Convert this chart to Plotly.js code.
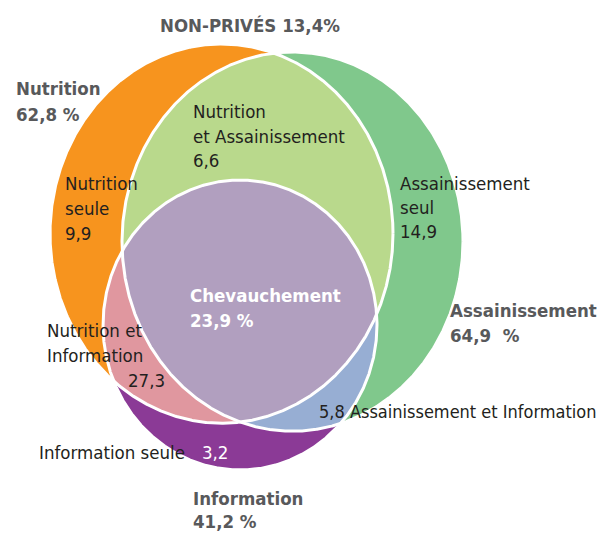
<!DOCTYPE html>
<html>
<head>
<meta charset="utf-8">
<script src="https://cdn.plot.ly/plotly-3.0.1.min.js"></script>
<style>html,body{margin:0;padding:0;background:#fff}</style>
</head>
<body>
<div id="chart" style="width:612px;height:533px"></div>
<script>
// ---------- DATA ----------
const setNames = ["Nutrition", "Assainissement", "Information"];
const setPct = [62.8, 64.9, 41.2];
const regionNames = ["Nutrition seule", "Nutrition et Assainissement", "Assainissement seul",
  "Chevauchement", "Nutrition et Information", "Assainissement et Information", "Information seule"];
const regionValues = [9.9, 6.6, 14.9, 23.9, 27.3, 5.8, 3.2];
const nonPrivesLabel = "NON-PRIVÉS";
const nonPrivesPct = 13.4;

// ---------- GEOMETRY / STYLE ----------
const ellipses = [ // Nutrition, Assainissement, Information
  {cx: 221.5, cy: 233.6, rx: 171.5, ry: 189.6},
  {cx: 292.5, cy: 241.6, rx: 170.5, ry: 189.6},
  {cx: 240,   cy: 325,   rx: 137,   ry: 145}
];
const setColors = ["#F7941E", "#80C88C", "#8B3A96"];
const pairColors = {"0-1": "#B9D98C", "0-2": "#E0979F", "1-2": "#97AED3"};
const tripleColor = "#B19FBF";
const FONT = "'DejaVu Sans Condensed', 'Liberation Sans', sans-serif";
const DARK = "#231F20", GREY = "#58595B", WHITE = "#FFFFFF";

const fmt = v => v.toFixed(1).replace('.', ',');

const N = 1440;
function boundary(e) {
  const pts = [];
  for (let i = 0; i < N; i++) {
    const t = 2 * Math.PI * i / N;
    pts.push([e.cx + e.rx * Math.cos(t), e.cy + e.ry * Math.sin(t)]);
  }
  return pts;
}
function inside(p, e) {
  const dx = (p[0] - e.cx) / e.rx, dy = (p[1] - e.cy) / e.ry;
  return dx * dx + dy * dy <= 1.0000001;
}
function intersectionPoly(idx) {
  let pts = [];
  idx.forEach(i => {
    boundary(ellipses[i]).forEach(p => {
      if (idx.every(j => j === i || inside(p, ellipses[j]))) pts.push(p);
    });
  });
  const mx = pts.reduce((s, p) => s + p[0], 0) / pts.length;
  const my = pts.reduce((s, p) => s + p[1], 0) / pts.length;
  pts.sort((a, b) => Math.atan2(a[1] - my, a[0] - mx) - Math.atan2(b[1] - my, b[0] - mx));
  return pts;
}
function polyTrace(pts, color) {
  const x = pts.map(p => p[0]), y = pts.map(p => p[1]);
  x.push(x[0]); y.push(y[0]);
  return {type: 'scatter', mode: 'lines', x, y, fill: 'toself', fillcolor: color,
    line: {width: 0, color: color}, hoverinfo: 'skip', showlegend: false};
}

const traces = [];
ellipses.forEach((e, i) => traces.push(polyTrace(boundary(e), setColors[i])));
[[0, 1], [0, 2], [1, 2]].forEach(pr => traces.push(polyTrace(intersectionPoly(pr), pairColors[pr.join('-')])));
traces.push(polyTrace(intersectionPoly([0, 1, 2]), tripleColor));
ellipses.forEach(e => {
  const b = boundary(e);
  const x = b.map(p => p[0]), y = b.map(p => p[1]);
  x.push(x[0]); y.push(y[0]);
  traces.push({type: 'scatter', mode: 'lines', x, y, line: {width: 3, color: WHITE},
    hoverinfo: 'skip', showlegend: false});
});

// ---------- LABELS ----------
const annotations = [];
function ann(text, x, baseline, size, color, bold) {
  annotations.push({
    text: bold ? '<b>' + text + '</b>' : text,
    x: x - 2, y: baseline - 0.35 * size, xref: 'x', yref: 'y',
    xanchor: 'left', yanchor: 'middle', showarrow: false,
    font: {family: FONT, size: size, color: color}
  });
}
const RS = 18.5, BS = 18.5;
// title
ann(nonPrivesLabel + ' ' + fmt(nonPrivesPct) + '%', 160, 32, BS, GREY, true);
// set labels
ann(setNames[0], 16, 95, BS, GREY, true);
ann(fmt(setPct[0]) + ' %', 16, 121, BS, GREY, true);
ann(setNames[1], 450, 317, BS, GREY, true);
ann(fmt(setPct[1]) + '&nbsp;&nbsp;%', 450, 342, BS, GREY, true);
ann(setNames[2], 193, 505, BS, GREY, true);
ann(fmt(setPct[2]) + ' %', 193, 528, BS, GREY, true);
// regions
ann('Nutrition', 65, 190, RS, DARK);
ann('seule', 65, 215, RS, DARK);
ann(fmt(regionValues[0]), 65, 240, RS, DARK);
ann('Nutrition', 193, 118, RS, DARK);
ann('et Assainissement', 193, 143, RS, DARK);
ann(fmt(regionValues[1]), 193, 167, RS, DARK);
ann('Assainissement', 400, 190, RS, DARK);
ann('seul', 400, 214, RS, DARK);
ann(fmt(regionValues[2]), 400, 238, RS, DARK);
ann(regionNames[3], 190, 302, BS, WHITE, true);
ann(fmt(regionValues[3]) + ' %', 190, 327, BS, WHITE, true);
ann('Nutrition et', 47, 337, RS, DARK);
ann('Information', 47, 362, RS, DARK);
ann(fmt(regionValues[4]), 128, 387, RS, DARK);
ann(fmt(regionValues[5]) + ' ' + regionNames[5], 319, 418, 18, DARK);
ann(regionNames[6], 39, 459, RS, DARK);
ann(fmt(regionValues[6]), 202, 459, RS, WHITE);

const layout = {
  width: 612, height: 533,
  margin: {l: 0, r: 0, t: 0, b: 0},
  paper_bgcolor: '#fff', plot_bgcolor: '#fff',
  xaxis: {range: [0, 612], visible: false, fixedrange: true},
  yaxis: {range: [533, 0], visible: false, fixedrange: true},
  annotations: annotations,
  showlegend: false
};
Plotly.newPlot('chart', traces, layout, {staticPlot: true, displayModeBar: false});
</script>
</body>
</html>
